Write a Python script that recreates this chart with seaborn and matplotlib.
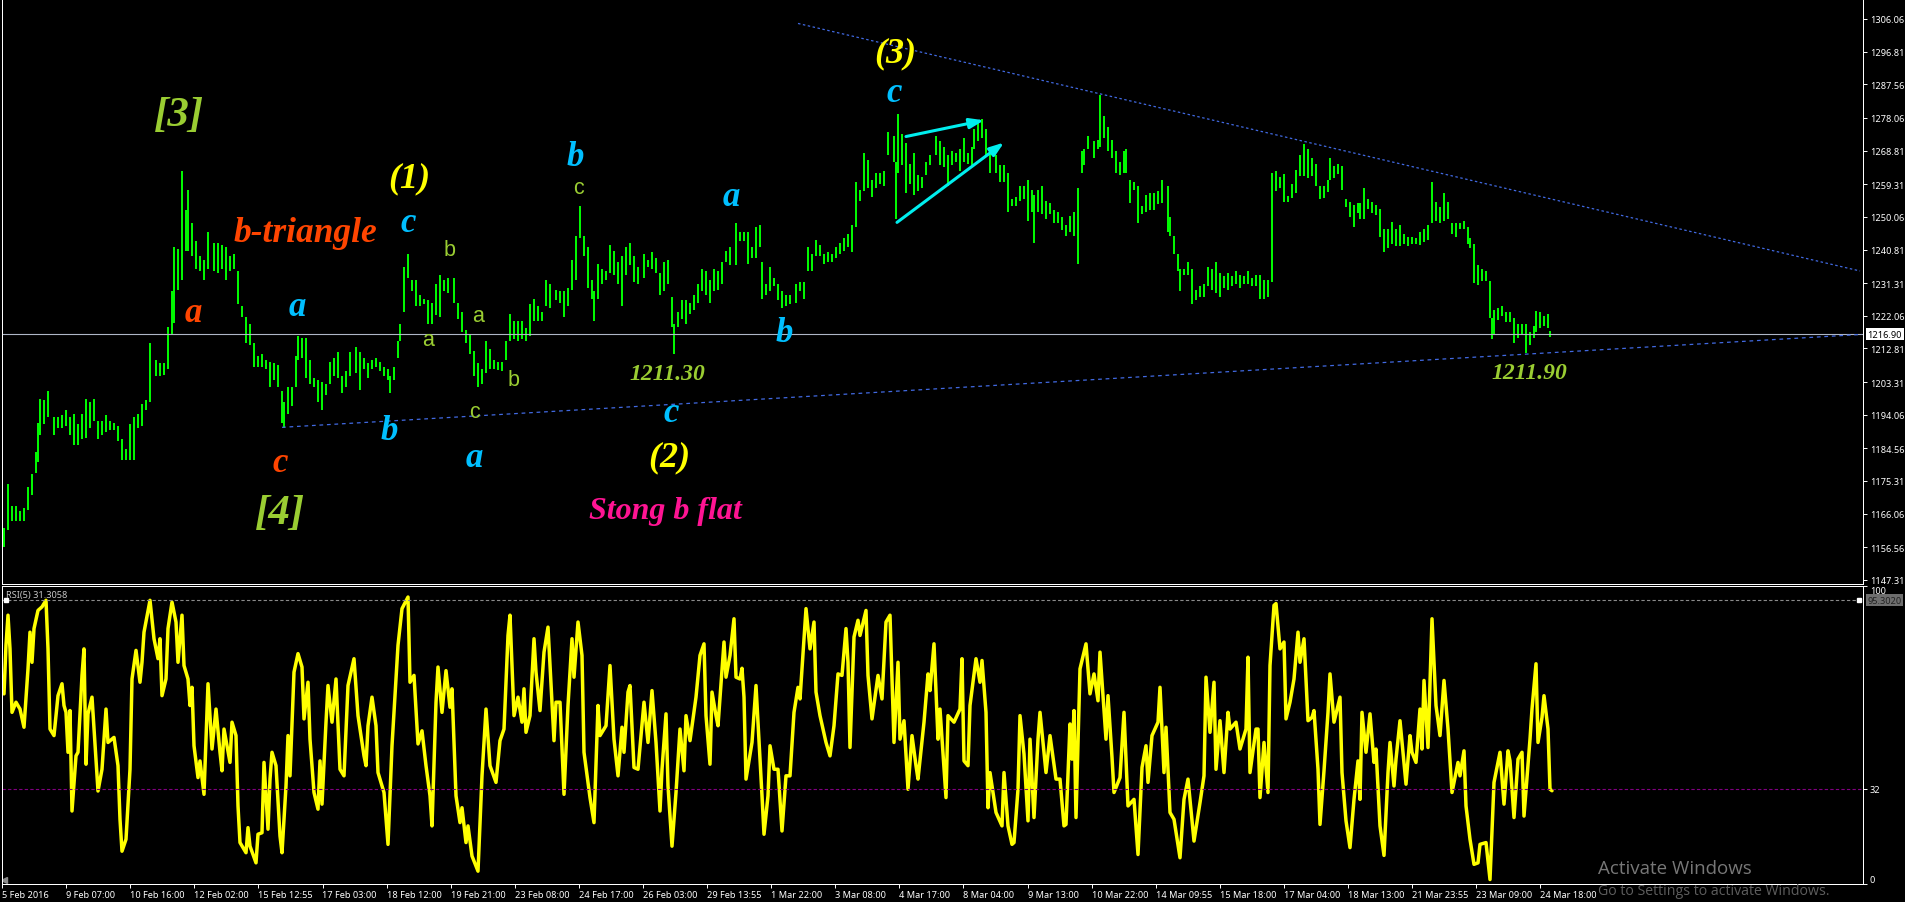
import numpy as np
import matplotlib
matplotlib.use("Agg")
import matplotlib.pyplot as plt
import seaborn as sns

bar_no = [1,3,5,7,9,11,13,15,17,18,19,21,23,26,28,30,32,34,36,38,
    40,42,44,46,48,50,52,54,56,58,60,62,64,66,68,70,72,74,77,79,
    81,83,85,86,88,90,92,93,95,97,99,101,103,106,108,110,112,114,116,118,
    120,122,124,126,128,130,132,134,136,138,140,141,143,145,147,148,150,152,154,156,
    158,160,162,164,166,168,170,172,174,177,179,181,183,185,187,189,191,193,194,196,
    198,199,201,203,205,207,209,211,213,215,217,219,221,223,226,228,230,232,234,236,
    238,240,242,244,246,248,250,252,254,256,258,260,262,264,266,268,270,272,274,277,
    279,281,283,285,287,289,291,293,295,296,298,300,302,304,306,308,310,312,314,316,318,
    321,323,325,327,329,331,333,335,336,338,340,342,344,346,348,350,352,354,356,358,
    360,362,364,367,369,371,373,375,377,379,380,382,384,386,388,390,392,394,397,399,
    401,403,405,407,409,411,413,415,417,419,421,423,425,427,429,431,433,435,437,439,
    441,443,446,447,448,450,452,454,456,458,460,462,464,467,469,471,473,475,477,479,
    481,483,485,486,488,490,492,494,497,499,501,503,505,507,509,511,513,515,516,518,
    520,522,524,526,528,530,532,534,536,538,540,541,543,546,548,549,551,553,555,557,
    559,561,562,564,566,568,570,572,574,576,578,580,583,584,586,588,589,591,593,595,
    597,599,601,603,605,607,609,611,613,615,617,619,621,623,625,627,629,631,633,635,637,639,
    641,643,645,647,649,651,653,655,657,659,661,663,664,666,668,670,672,674,676,678,
    679,681,683,685,687,689,691,693,695,697,699,701,703,705,707,709,711,713,715,717,
    719,721,723,725,727,729,731,733,734,736,738,740,742,744,745,746,748,750,752,754,
    756,758,760,762,764,766,767,769,771,773,774]
bar_high = [1162.0,1174.5,1168.3,1168.3,1166.7,1167.7,1173.5,1177.2,1183.4,1191.8,1198.6,1198.1,1200.7,1193.4,1193.4,1193.9,1195.5,1193.4,1194.4,1191.3,
    1194.4,1198.6,1197.6,1198.6,1192.3,1192.3,1193.9,1192.3,1191.8,1190.8,1187.1,1184.5,1191.3,1193.4,1194.4,1197.1,1198.1,1214.3,1209.6,1208.6,
    1208.6,1219.0,1229.0,1241.6,1241.0,1263.0,1252.0,1257.8,1248.4,1243.1,1238.9,1237.9,1245.7,1242.6,1242.6,1242.1,1241.6,1238.9,1239.5,1234.7,
    1224.8,1221.7,1219.6,1214.3,1210.7,1211.2,1209.6,1209.1,1208.6,1208.0,1200.7,1197.6,1201.8,1201.8,1210.7,1216.4,1215.9,1215.9,1209.6,1204.4,
    1203.9,1203.3,1202.8,1209.1,1210.1,1211.7,1204.9,1206.5,1211.7,1213.3,1211.7,1210.1,1208.6,1209.6,1210.1,1209.1,1207.5,1207.0,1204.9,1207.5,
    1214.9,1219.6,1235.8,1239.5,1232.1,1232.1,1227.9,1226.9,1226.4,1225.8,1231.1,1233.7,1232.1,1232.7,1232.7,1225.8,1223.2,1218.0,1216.9,1212.2,
    1208.6,1207.0,1214.9,1212.8,1209.6,1209.1,1209.1,1214.9,1222.7,1220.6,1220.6,1220.6,1218.5,1225.3,1226.9,1224.8,1223.2,1232.1,1231.1,1229.5,
    1229.0,1229.0,1230.0,1237.9,1244.7,1253.1,1244.7,1241.6,1232.1,1229.0,1236.8,1235.3,1234.7,1242.1,1240.5,1237.4,1238.9,1241.6,1242.6,1238.9,1235.8,
    1239.5,1237.9,1240.0,1238.4,1234.2,1237.4,1237.9,1227.4,1219.6,1223.2,1226.4,1226.4,1225.8,1227.9,1231.1,1235.3,1234.7,1232.1,1235.3,1234.7,
    1237.4,1240.5,1241.6,1248.4,1245.7,1245.7,1245.7,1241.6,1247.3,1247.8,1237.4,1231.1,1235.8,1232.7,1231.1,1229.0,1227.9,1227.9,1231.1,1231.6,
    1231.6,1241.6,1239.5,1243.6,1242.1,1239.5,1240.0,1239.5,1241.6,1242.6,1244.2,1245.2,1247.8,1259.9,1257.8,1268.2,1266.2,1260.4,1262.5,1262.5,
    1263.0,1274.0,1273.0,1265.6,1279.2,1273.5,1270.9,1265.1,1268.2,1262.0,1261.4,1265.6,1267.7,1273.0,1271.4,1269.8,1267.7,1268.8,1268.2,1269.3,
    1272.4,1268.2,1269.8,1275.0,1276.6,1277.7,1275.0,1269.8,1267.7,1264.6,1264.6,1262.5,1255.2,1255.7,1258.8,1258.8,1260.4,1257.8,1256.2,1257.8,
    1258.8,1254.6,1254.1,1252.0,1251.5,1249.9,1247.8,1250.4,1251.5,1258.3,1268.8,1269.3,1273.0,1271.4,1271.9,1284.5,1278.7,1275.6,1271.9,1268.8,
    1265.6,1268.8,1269.3,1260.4,1259.9,1258.8,1253.1,1256.2,1256.7,1256.7,1257.3,1260.4,1258.8,1249.9,1244.7,1239.5,1235.3,1235.3,1237.4,1235.3,
    1229.5,1230.6,1231.1,1235.8,1235.3,1237.4,1234.2,1233.2,1234.2,1233.2,1234.7,1233.7,1233.2,1234.7,1232.7,1233.7,1233.7,1232.1,1232.1,1262.5,1263.0,1261.4,
    1262.2,1256.1,1259.4,1263.3,1267.7,1270.7,1269.3,1266.6,1264.9,1258.9,1258.9,1260.5,1266.6,1264.4,1264.9,1264.4,1255.0,1254.4,1253.3,1253.9,
    1253.9,1258.3,1255.0,1254.4,1253.3,1252.2,1246.7,1246.7,1248.7,1246.7,1247.8,1245.1,1244.5,1244.3,1244.0,1245.9,1246.5,1247.8,1260.0,1254.4,
    1252.8,1256.7,1254.4,1248.4,1248.4,1248.4,1248.9,1247.3,1244.0,1242.3,1236.3,1235.2,1234.6,1231.9,1221.4,1223.6,1224.2,1224.7,1223.1,1223.1,
    1221.4,1219.8,1219.8,1219.8,1217.6,1219.2,1223.3,1223.1,1222.0,1222.7,1217.8]
bar_low = [1156.7,1161.5,1164.1,1164.1,1164.1,1163.9,1167.2,1171.4,1177.7,1180.8,1188.2,1191.3,1193.4,1188.2,1190.2,1190.2,1190.8,1188.2,1185.5,1185.5,
    1187.1,1187.6,1190.2,1192.3,1187.1,1188.2,1189.2,1189.7,1189.7,1186.6,1181.3,1181.3,1181.3,1181.3,1190.2,1190.8,1195.5,1197.6,1204.9,1204.9,
    1205.4,1207.0,1216.9,1220.1,1229.5,1232.1,1240.5,1240.5,1238.9,1235.3,1234.7,1232.1,1235.3,1234.7,1234.2,1235.3,1232.1,1234.7,1235.3,1225.3,
    1221.7,1214.3,1213.8,1207.5,1207.5,1207.5,1207.0,1201.8,1203.9,1201.8,1191.8,1190.2,1194.4,1196.5,1201.8,1209.6,1210.1,1204.4,1202.8,1201.8,
    1197.6,1195.5,1199.7,1202.8,1204.9,1204.4,1200.2,1201.8,1204.9,1206.0,1201.2,1207.0,1204.4,1207.0,1207.5,1206.5,1204.9,1203.9,1200.2,1203.9,
    1210.1,1214.9,1223.2,1232.7,1229.0,1224.8,1224.8,1225.3,1219.6,1219.6,1222.2,1221.7,1229.0,1228.5,1225.8,1221.1,1217.5,1214.3,1211.2,1204.9,
    1201.8,1202.8,1206.0,1207.0,1207.0,1206.7,1206.5,1209.6,1214.9,1215.4,1214.9,1215.4,1214.9,1216.4,1220.6,1220.6,1220.6,1224.8,1224.3,1226.4,
    1225.8,1221.7,1224.8,1229.5,1232.1,1244.2,1238.9,1230.0,1226.9,1220.6,1226.9,1231.1,1232.1,1234.2,1233.7,1231.1,1224.8,1233.7,1236.3,1231.6,1231.1,
    1232.7,1235.8,1235.3,1234.2,1227.9,1229.0,1231.1,1219.0,1211.2,1219.0,1221.1,1219.6,1222.7,1223.7,1225.8,1229.0,1227.9,1225.8,1229.0,1229.5,
    1231.1,1237.4,1236.3,1236.3,1243.1,1243.1,1236.8,1238.4,1238.4,1241.6,1226.9,1227.9,1229.0,1230.6,1226.4,1224.3,1224.8,1225.3,1225.8,1229.0,
    1226.9,1234.7,1234.7,1238.9,1238.9,1236.8,1237.4,1237.4,1238.4,1239.5,1240.5,1241.6,1240.0,1247.3,1254.6,1257.3,1258.3,1255.7,1258.3,1259.4,
    1258.8,1267.7,1265.6,1249.4,1262.5,1264.6,1256.7,1259.4,1256.2,1257.3,1258.3,1262.0,1264.6,1267.7,1264.6,1264.1,1258.8,1264.6,1265.6,1263.0,
    1265.6,1265.1,1264.6,1269.3,1271.4,1272.4,1267.7,1262.5,1262.5,1259.9,1259.9,1251.5,1253.1,1253.1,1254.6,1255.2,1248.9,1251.5,1242.6,1251.5,
    1251.0,1249.4,1251.0,1248.4,1248.4,1246.3,1244.7,1245.7,1244.7,1236.8,1262.5,1264.6,1269.3,1266.7,1269.3,1269.8,1272.4,1268.8,1266.7,1262.5,
    1262.0,1262.5,1262.5,1254.1,1257.8,1248.4,1251.0,1251.5,1252.0,1252.0,1253.6,1254.1,1245.7,1244.7,1239.5,1234.7,1229.0,1233.7,1233.7,1225.3,
    1226.4,1227.4,1227.4,1230.6,1229.5,1228.5,1227.4,1230.0,1229.5,1230.6,1231.1,1230.0,1231.1,1231.1,1230.6,1230.6,1226.9,1226.9,1227.4,1231.6,1257.3,1258.3,
    1254.4,1254.4,1255.5,1256.7,1261.6,1261.6,1261.1,1261.6,1258.9,1255.0,1255.5,1257.2,1260.5,1261.1,1262.2,1257.8,1252.8,1250.0,1247.3,1251.1,
    1249.5,1249.5,1252.2,1251.1,1250.6,1244.5,1240.1,1241.2,1242.3,1241.8,1241.8,1242.3,1241.8,1242.3,1242.3,1242.1,1242.9,1243.4,1248.4,1248.9,
    1248.4,1248.9,1249.5,1245.1,1244.5,1246.7,1246.7,1242.3,1241.2,1231.3,1230.8,1231.9,1231.9,1221.4,1215.4,1217.0,1220.9,1222.0,1220.3,1220.3,
    1214.3,1215.9,1216.5,1211.5,1213.7,1215.9,1217.6,1218.7,1219.2,1218.7,1216.1]

rsi_bar = [1,2,3,4,5,7,9,11,13,14,15,16,18,20,22,23,24,26,28,30,31,32,33,34,35,37,38,40,41,42,43,45,47,48,50,52,53,56,58,59,
    60,62,64,65,67,69,70,71,74,76,78,79,80,82,83,85,87,88,90,91,93,94,95,96,98,99,101,103,105,107,109,110,111,114,115,117,118,119,122,123,
    124,127,128,130,131,133,134,135,137,139,140,142,143,144,146,148,150,151,153,154,156,158,159,160,162,163,165,167,169,171,173,176,178,181,182,183,185,187,188,190,
    191,193,195,198,200,203,204,206,208,210,212,214,215,217,218,220,222,224,225,227,229,230,232,233,235,238,240,242,244,247,249,251,253,254,256,258,260,261,262,264,
    266,267,269,271,273,276,277,279,281,283,285,286,288,290,291,294,296,298,299,302,304,306,308,310,311,313,314,316,318,
    321,323,325,327,329,330,332,333,335,337,339,341,342,344,347,349,351,352,354,355,357,358,361,362,364,366,367,369,370,371,372,375,377,378,380,381,383,384,386,388,
    390,392,394,396,398,399,402,404,406,407,409,412,414,416,418,420,422,423,424,426,428,429,432,433,435,438,440,442,444,446,448,449,451,453,455,457,458,461,463,464,
    466,468,469,472,473,476,479,480,481,483,484,487,489,490,492,493,494,497,500,501,503,505,506,508,509,511,513,514,516,518,519,522,524,527,529,531,532,534,535,536,
    537,539,542,544,546,548,549,552,553,555,556,559,561,563,566,568,570,572,573,575,578,579,581,582,584,586,589,591,593,596,599,601,602,604,606,607,609,611,613,614,
    617,619,622,623,624,627,628,629,631,633,634,636,637,639,
    641,642,644,646,648,649,651,653,655,656,658,659,661,663,664,666,669,670,672,674,676,678,679,680,682,684,686,687,689,691,693,694,696,697,699,702,704,705,707,709,
    710,711,713,715,717,719,721,723,725,728,729,731,732,734,736,738,739,742,744,746,749,751,753,754,756,758,760,761,764,765,767,768,770,771,773,774,775]
rsi_val = [63.8,80.1,90.2,78.9,57.6,61.0,58.7,52.6,72.2,84.5,74.4,85.7,91.8,93.0,95.2,78.9,52.0,49.8,63.2,67.2,59.9,57.6,44.2,58.2,24.5,43.0,44.2,70.0,78.9,40.2,57.1,62.7,41.9,31.2,38.5,58.7,47.5,49.2,39.7,21.7,
    11.0,15.0,38.5,68.8,78.4,67.7,74.4,84.5,95.2,82.3,75.6,82.3,63.2,68.8,85.7,94.6,87.9,74.4,90.2,73.3,68.8,59.9,66.0,46.4,35.7,41.3,30.1,67.2,45.3,58.7,44.2,38.0,52.0,40.8,54.3,49.8,26.2,13.9,10.5,18.9,
    12.7,7.1,16.7,17.2,40.8,18.4,35.2,44.2,39.7,16.1,10.5,32.9,49.8,36.3,71.1,77.3,72.8,55.4,67.7,48.6,30.7,25.1,41.3,26.8,54.3,66.6,54.3,68.8,38.5,36.3,66.6,75.6,56.5,43.0,39.7,53.1,62.7,53.1,37.4,32.9,
    30.7,13.3,46.4,80.1,92.4,96.3,67.7,70.0,47.0,51.4,39.7,29.6,19.5,61.0,72.8,57.6,71.6,59.3,65.5,29.6,20.6,25.6,13.9,19.5,9.4,4.3,36.3,58.7,39.7,34.1,48.1,52.0,83.4,90.2,56.5,62.7,54.3,65.5,50.9,56.5,
    82.3,71.1,58.2,77.8,86.2,48.1,61.0,61.0,30.1,59.9,82.3,69.4,87.9,76.7,44.2,29.0,20.6,59.9,49.8,53.1,73.3,48.6,36.3,52.6,44.2,64.4,66.6,39.1,38.5,
    61.0,47.5,64.9,47.5,24.5,38.5,57.1,32.9,12.7,30.7,52.0,38.0,56.5,48.1,62.7,76.7,80.6,56.5,40.2,64.4,56.5,53.1,81.2,69.4,76.7,89.0,69.4,68.8,72.4,62.7,35.2,47.5,66.6,54.3,29.6,16.7,29.6,46.4,38.5,38.5,
    17.8,36.3,36.3,57.6,66.0,62.1,92.4,78.9,87.9,64.4,56.5,47.5,43.0,53.1,70.5,70.0,85.7,74.4,45.8,82.9,88.5,83.4,91.8,70.0,55.4,70.0,62.1,87.9,90.2,47.5,74.4,48.6,54.8,31.8,49.8,39.7,35.2,54.3,70.5,64.9,
    80.6,48.6,58.7,29.0,56.5,54.3,58.7,75.6,41.3,39.7,59.9,75.6,67.7,75.0,57.6,25.6,37.4,24.0,19.5,37.4,19.5,13.3,13.9,31.8,56.5,43.6,21.2,48.6,22.3,48.6,57.6,37.4,49.8,35.2,35.2,19.5,20.0,53.7,41.9,58.2,
    22.3,72.2,80.6,63.8,70.5,61.5,77.8,48.6,63.2,42.5,30.7,35.7,57.6,26.2,28.4,9.9,39.1,46.4,34.1,49.8,54.3,66.0,37.4,52.6,24.0,21.7,8.8,28.4,35.2,14.4,27.3,36.3,69.4,50.9,67.7,38.5,54.8,37.4,57.6,52.0,
    54.3,45.3,52.0,76.1,37.4,52.0,52.0,29.0,47.5,30.7,73.3,93.5,94.1,78.9,
    81.2,55.4,61.0,68.8,84.5,74.4,82.3,54.8,55.9,58.2,38.5,20.0,38.0,57.6,70.5,54.3,62.7,37.4,21.2,12.2,28.4,41.3,28.4,57.6,44.2,57.1,40.8,45.3,19.5,9.6,37.4,47.5,32.9,41.9,54.8,33.5,49.8,44.2,40.8,58.7,
    45.3,68.3,45.8,89.0,59.9,49.8,68.3,52.0,30.7,40.8,36.3,44.7,26.2,15.0,6.6,7.1,13.3,13.9,1.5,34.1,44.2,26.8,44.7,41.3,22.3,41.9,44.2,22.8,48.6,58.7,73.9,47.5,55.9,63.2,52.0,31.8,31.3]

price_ticks = [1306.06,1296.81,1287.56,1278.06,1268.81,1259.31,1250.06,1240.81,1231.31,1222.06,
               1212.81,1203.31,1194.06,1184.56,1175.31,1166.06,1156.56,1147.31]
date_labels = ["5 Feb 2016","9 Feb 07:00","10 Feb 16:00","12 Feb 02:00","15 Feb 12:55","17 Feb 03:00",
               "18 Feb 12:00","19 Feb 21:00","23 Feb 08:00","24 Feb 17:00","26 Feb 03:00","29 Feb 13:55",
               "1 Mar 22:00","3 Mar 08:00","4 Mar 17:00","8 Mar 04:00","9 Mar 13:00","10 Mar 22:00",
               "14 Mar 09:55","15 Mar 18:00","17 Mar 04:00","18 Mar 13:00","21 Mar 23:55","23 Mar 09:00",
               "24 Mar 18:00"]
last_price = 1216.90
rsi_high = 95.3020
rsi_low = 32
upper_bars, upper_prices = [398, 929], [1304.8, 1234.75]
lower_bars, lower_prices = [140, 930], [1190.5, 1216.8]

GREEN = "#9ACD32"
BLUE = "#00BFFF"
RED = "#FF4500"
YEL = "#FFFF00"
PINK = "#FF1493"
# text, x px, y px, colour, size
wave_labels = [
    ("[3]", 179, 116, GREEN, 31), ("[4]", 280, 514, GREEN, 31),
    ("(1)", 409, 179, YEL, 26), ("(2)", 669, 458, YEL, 26), ("(3)", 895, 54, YEL, 26),
    ("b-triangle", 305, 234, RED, 25.5), ("Stong b flat", 665, 511, PINK, 23),
    ("a", 193, 313, RED, 25), ("c", 280, 464, RED, 25),
    ("a", 297, 308, BLUE, 25), ("c", 408, 223, BLUE, 25), ("b", 389, 431, BLUE, 25),
    ("a", 474, 459, BLUE, 25), ("b", 575, 158, BLUE, 25), ("a", 731, 197, BLUE, 25),
    ("b", 784, 334, BLUE, 25), ("c", 671, 414, BLUE, 25), ("c", 894, 93, BLUE, 25),
    ("1211.30", 667, 375, GREEN, 17), ("1211.90", 1529, 374, GREEN, 17),
]
small_labels = [("b", 450, 250), ("a", 478, 317), ("a", 428, 341), ("b", 514, 380), ("c", 475, 413), ("c", 578, 189)]

sns.set_theme(style="dark", rc={"axes.facecolor": "black", "figure.facecolor": "black", "axes.grid": False})
plt.rcParams["font.family"] = ["Noto Sans", "DejaVu Sans"]

W, H = 1905, 903
fig = plt.figure(figsize=(W / 100, H / 100), dpi=100)
ax = fig.add_axes([2 / W, 1 - 584.5 / H, 1861 / W, 584.5 / H])
ax2 = fig.add_axes([2 / W, 1 - 885 / H, 1861 / W, 298 / H])

xmax = 1861 / 2
for a in (ax, ax2):
    a.set_facecolor("black")
    a.set_xlim(0, xmax)
    for s in a.spines.values():
        s.set_color("white")
        s.set_linewidth(0.72)
    a.yaxis.tick_right()
    a.tick_params(axis="y", colors="white", labelsize=6.6, length=3, width=0.7, pad=2, right=True, left=False)

# price panel
ax.set_ylim(1146.3, 1311.72)
ax.vlines(bar_no, bar_low, bar_high, color="#00FF00", linewidth=1.4)
ax.axhline(last_price, color="#AEB6C6", linewidth=0.8)
sns.lineplot(x=upper_bars, y=upper_prices, ax=ax, color="#4169E1", linewidth=0.9, linestyle=(0, (2, 2)))
sns.lineplot(x=lower_bars, y=lower_prices, ax=ax, color="#4169E1", linewidth=0.9, linestyle=(0, (3, 3)))
ax.set_xlabel("")
ax.set_ylabel("")
ax.set_xticks([])
ax.set_yticks(price_ticks)
ax.set_yticklabels(["%.2f" % p for p in price_ticks])
ax.annotate("", xy=(491, 1277.4), xytext=(452, 1272.8),
            arrowprops=dict(arrowstyle="-|>,head_length=0.7,head_width=0.25", color="#00EEEE", lw=2.2, shrinkA=0, shrinkB=0))
ax.annotate("", xy=(501, 1271.1), xytext=(447.5, 1248.5),
            arrowprops=dict(arrowstyle="-|>,head_length=0.7,head_width=0.25", color="#00EEEE", lw=2.2, shrinkA=0, shrinkB=0))
ax.text(1.0025, last_price, "%.2f" % last_price, transform=ax.get_yaxis_transform(), color="black", fontsize=6.6,
        va="center", ha="left", bbox=dict(facecolor="white", edgecolor="none", pad=1.2), clip_on=False, zorder=5)

# rsi panel
ax2.set_ylim(0, 100)
sns.lineplot(x=rsi_bar, y=rsi_val, ax=ax2, color=YEL, linewidth=2.5, estimator=None, sort=False)
ax2.axhline(rsi_high, color="#8A8A8A", linewidth=0.8, linestyle=(0, (3, 2)))
ax2.axhline(rsi_low, color="#800080", linewidth=0.8, linestyle=(0, (3, 2)))
ax2.set_xlabel("")
ax2.set_ylabel("")
ax2.set_yticks([100, 32, 0])
ax2.set_yticklabels(["100", "32", "0"])
ax2.get_yticklabels()[0].set_va("top")
ax2.get_yticklabels()[2].set_va("bottom")
ax2.set_xticks(np.arange(len(date_labels)) * 32.05)
ax2.set_xticklabels(date_labels, ha="left")
ax2.tick_params(axis="x", colors="white", labelsize=6.6, length=3, width=0.7, pad=1.5, bottom=True)
ax2.text(0.002, 0.97, "RSI(5) 31.3058", transform=ax2.transAxes, color="#C8C8C8", fontsize=6.6, va="center", ha="left")
ax2.text(1.0025, rsi_high, "%.4f" % rsi_high, transform=ax2.get_yaxis_transform(), color="#222222", fontsize=6.6,
         va="center", ha="left", bbox=dict(facecolor="#6E6E6E", edgecolor="none", pad=1.2), clip_on=False, zorder=5)
ax2.plot([0.002, 0.998], [rsi_high, rsi_high], transform=ax2.get_yaxis_transform(), ls="none", marker="s", ms=2.5, color="white")
ax2.plot([0.001], [0.012], transform=ax2.transAxes, ls="none", marker="<", ms=4, color="#8A8A8A")

for txt, x, y, col, size in wave_labels:
    fig.text(x / W, 1 - y / H, txt, color=col, fontsize=size, family="Liberation Serif", style="italic",
             weight="bold", ha="center", va="center")
for txt, x, y in small_labels:
    fig.text(x / W, 1 - y / H, txt, color=GREEN, fontsize=15.5, family="Liberation Sans", ha="center", va="center")

fig.text(1598 / W, 1 - 869 / H, "Activate Windows", color="#777777", fontsize=13.5, family="Open Sans", ha="left", va="center")
fig.text(1598 / W, 1 - 892 / H, "Go to Settings to activate Windows.", color="#5E5E5E", fontsize=10.2, family="Open Sans", ha="left", va="center")

fig.savefig("out.png", dpi=100, facecolor="black")
